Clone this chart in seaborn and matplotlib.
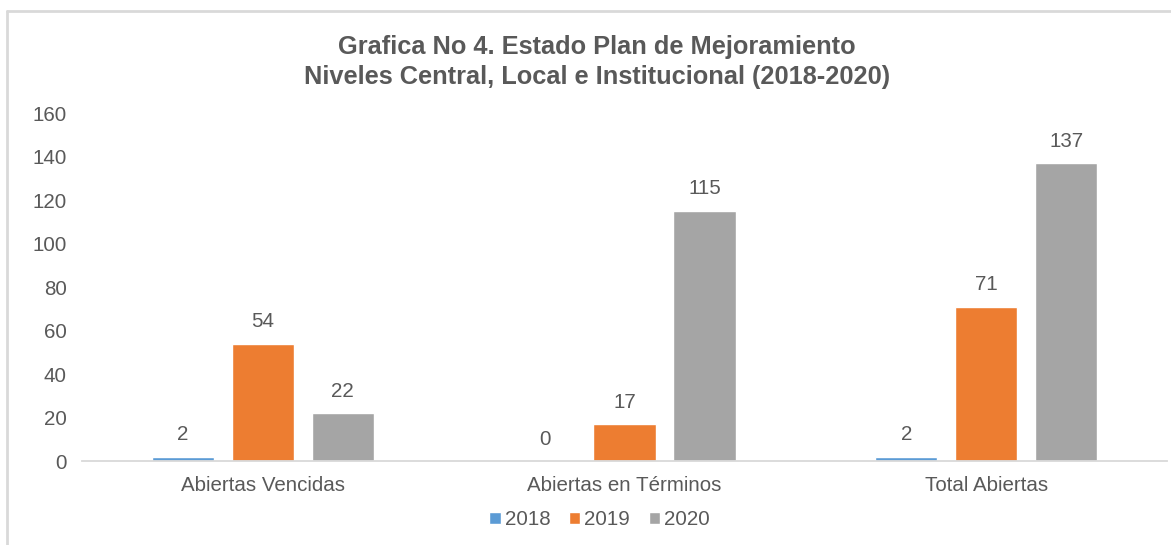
import numpy as np
import pandas as pd
import matplotlib
matplotlib.use('Agg')
import matplotlib.pyplot as plt
from matplotlib.lines import Line2D
import seaborn as sns

categorias = ['Abiertas Vencidas', 'Abiertas en Términos', 'Total Abiertas']
anios = ['2018', '2019', '2020']
v2018 = [2, 0, 2]
v2019 = [54, 17, 71]
v2020 = [22, 115, 137]
colores = ['#5B9BD5', '#ED7D31', '#A5A5A5']
gris = '#595959'

df = pd.DataFrame({
    'categoria': categorias * 3,
    'anio': [a for a in anios for _ in categorias],
    'valor': v2018 + v2019 + v2020,
})

sns.set_style('white')
plt.rcParams['font.family'] = ['Liberation Sans', 'DejaVu Sans']
fs = 14.8

fig = plt.figure(figsize=(11.71, 5.45), dpi=100)
ax = fig.add_axes([0.070, 0.154, 0.9266, 0.6386])

sns.barplot(data=df, x='categoria', y='valor', hue='anio', order=categorias,
            hue_order=anios, palette=colores, width=0.663, gap=0.22,
            saturation=1, ax=ax, legend=True)

for c in ax.containers:
    ax.bar_label(c, padding=9, fontsize=fs, color=gris)

ax.set_ylim(0, 160)
ax.set_yticks(np.arange(0, 161, 20))
ax.set_xlim(-0.5, 2.5)
ax.set_xlabel('')
ax.set_ylabel('')
ax.tick_params(axis='both', length=0, labelsize=fs, labelcolor=gris)
ax.tick_params(axis='x', pad=11)
ax.tick_params(axis='y', pad=11)
for s in ['top', 'right', 'left']:
    ax.spines[s].set_visible(False)
ax.spines['bottom'].set_color('#D9D9D9')
ax.spines['bottom'].set_linewidth(1.3)

ax.legend(loc='center', bbox_to_anchor=(0.512, 0.046), bbox_transform=fig.transFigure,
          ncol=3, frameon=False, fontsize=fs, labelcolor=gris,
          handlelength=0.55, handleheight=0.55, handletextpad=0.2, columnspacing=0.9)

fig.text(0.51, 0.913, 'Grafica No 4. Estado Plan de Mejoramiento', ha='center', va='center',
         fontsize=18.3, fontweight='bold', color=gris)
fig.text(0.51, 0.858, 'Niveles Central, Local e Institucional (2018-2020)', ha='center', va='center',
         fontsize=18.3, fontweight='bold', color=gris)

# chart area frame (left and top edges visible)
fig.add_artist(Line2D([0.006, 0.006], [0.0, 0.98], transform=fig.transFigure, color='#D9D9D9', lw=2))
fig.add_artist(Line2D([0.006, 1.0], [0.98, 0.98], transform=fig.transFigure, color='#D9D9D9', lw=2))

fig.savefig('out.png', dpi=100)
